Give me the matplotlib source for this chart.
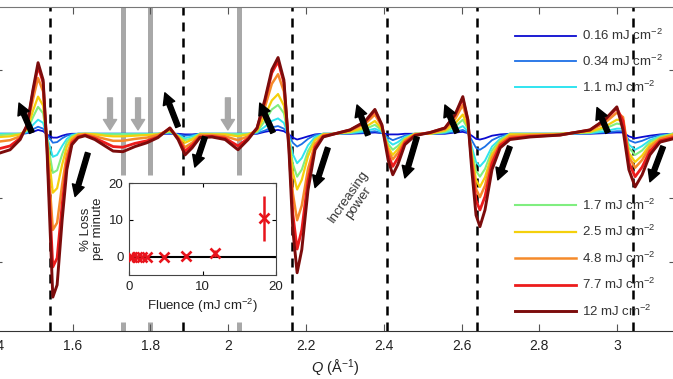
import matplotlib
matplotlib.use('Agg')
import matplotlib.pyplot as plt

plt.rcParams['font.family'] = ['Liberation Sans', 'DejaVu Sans']
plt.rcParams['mathtext.fontset'] = 'custom'
plt.rcParams['mathtext.rm'] = 'Liberation Sans'
plt.rcParams['mathtext.it'] = 'Liberation Sans:italic'

# scattering vector Q (1/Angstrom), common grid for all curves
q = [1.413, 1.439, 1.465, 1.483, 1.498, 1.511, 1.524, 1.534, 1.542, 1.549,
     1.560, 1.573, 1.585, 1.598, 1.614, 1.632, 1.657, 1.683, 1.704, 1.729,
     1.760, 1.791, 1.819, 1.850, 1.871, 1.889, 1.907, 1.927, 1.958, 1.992,
     2.025, 2.051, 2.074, 2.094, 2.112, 2.128, 2.143, 2.156, 2.166, 2.177,
     2.189, 2.205, 2.223, 2.244, 2.274, 2.313, 2.351, 2.377, 2.395, 2.411,
     2.423, 2.436, 2.454, 2.480, 2.519, 2.557, 2.583, 2.603, 2.616, 2.626,
     2.637, 2.647, 2.660, 2.678, 2.699, 2.724, 2.776, 2.853, 2.930, 2.968,
     2.999, 3.015, 3.030, 3.046, 3.064, 3.084, 3.110, 3.143]

# difference signal for each fluence
d016 = [0, 0, 0, .01, .03, .06, .04, -.01, -.04, -.06,
        -.06, -.03, -.01, 0, 0, 0, 0, 0, 0, 0,
        0, 0, 0, 0, 0, -.01, -.01, 0, 0, 0,
        0, 0, 0, .03, .05, .06, .04, -.01, -.06, -.09,
        -.07, -.04, -.01, 0, 0, 0, .01, .02, .01, -.01,
        -.01, -.01, 0, 0, 0, 0, .02, .03, .01, -.03,
        -.08, -.09, -.07, -.03, -.01, 0, 0, 0, 0, .01,
        .02, .02, -.04, -.07, -.05, -.03, -.01, 0]
d034 = [0, 0, 0, .01, .07, .11, .08, -.02, -.08, -.14,
        -.13, -.07, -.03, -.01, 0, 0, 0, 0, 0, 0,
        0, 0, 0, .01, -.01, -.03, -.02, 0, 0, 0,
        0, 0, .01, .05, .10, .12, .08, -.02, -.14, -.20,
        -.16, -.08, -.02, 0, 0, .01, .02, .04, .01, -.06,
        -.10, -.07, -.03, 0, 0, .01, .03, .06, .02, -.10,
        -.22, -.25, -.20, -.10, -.04, 0, 0, 0, .01, .02,
        .04, .04, -.10, -.14, -.11, -.06, -.02, 0]
d11 = [0, 0, 0, .03, .14, .22, .17, -.05, -.21, -.36,
       -.33, -.19, -.08, -.02, 0, 0, 0, 0, 0, 0,
       0, 0, 0, .02, -.02, -.07, -.04, 0, 0, 0,
       0, 0, .02, .11, .20, .24, .17, -.05, -.32, -.46,
       -.38, -.18, -.05, 0, 0, .01, .04, .08, .03, -.11,
       -.17, -.13, -.05, 0, 0, .02, .06, .12, .04, -.20,
       -.44, -.51, -.42, -.20, -.08, 0, 0, 0, .01, .04,
       .08, .08, -.17, -.25, -.19, -.10, -.04, 0]
d17 = [-.02, -.01, 0, .05, .26, .42, .32, -.08, -.36, -.61,
       -.57, -.32, -.13, -.04, 0, 0, 0, -.01, -.01, -.01,
       -.01, -.01, 0, .03, -.03, -.10, -.07, 0, 0, 0,
       -.01, 0, .03, .20, .38, .45, .32, -.08, -.47, -.67,
       -.56, -.27, -.08, 0, 0, .02, .07, .14, .05, -.16,
       -.25, -.19, -.07, 0, 0, .03, .11, .22, .08, -.26,
       -.58, -.67, -.55, -.26, -.10, 0, 0, 0, .02, .08,
       .16, .14, -.22, -.33, -.26, -.13, -.05, 0]
d25 = [-.05, -.04, -.01, .07, .36, .58, .44, -.11, -.54, -.92,
       -.85, -.48, -.20, -.06, -.01, 0, -.01, -.03, -.04, -.04,
       -.03, -.02, -.01, .05, -.04, -.14, -.09, -.01, -.01, -.01,
       -.04, -.01, .05, .28, .52, .62, .44, -.10, -.60, -.87,
       -.72, -.35, -.10, -.01, 0, .03, .10, .20, .07, -.21,
       -.33, -.24, -.09, 0, 0, .05, .16, .30, .11, -.32,
       -.72, -.83, -.68, -.32, -.13, -.01, -.01, 0, .03, .11,
       .22, .20, -.30, -.44, -.34, -.17, -.07, -.01]
d48 = [-.12, -.10, -.04, .11, .54, .87, .66, -.16, -.88, -1.50,
       -1.39, -.79, -.33, -.10, -.02, -.01, -.04, -.08, -.11, -.11,
       -.08, -.06, -.02, .07, -.06, -.21, -.14, -.02, -.02, -.04,
       -.10, -.04, .07, .41, .78, .93, .66, -.16, -.93, -1.35,
       -1.12, -.55, -.16, -.02, 0, .05, .15, .30, .11, -.26,
       -.40, -.30, -.11, -.01, .01, .07, .23, .45, .17, -.38,
       -.86, -.99, -.81, -.38, -.15, -.04, -.02, -.01, .05, .17,
       .33, .26, -.36, -.53, -.41, -.21, -.08, -.03]
d77 = [-.23, -.19, -.07, .13, .66, 1.05, .80, -.21, -1.23, -2.08,
       -1.94, -1.10, -.46, -.14, -.05, -.02, -.07, -.14, -.20, -.21,
       -.15, -.11, -.05, .09, -.07, -.27, -.18, -.05, -.04, -.07,
       -.19, -.07, .09, .50, .95, 1.13, .80, -.21, -1.25, -1.80,
       -1.50, -.73, -.21, -.04, 0, .06, .18, .36, .13, -.33,
       -.51, -.38, -.14, -.02, .02, .09, .29, .55, .21, -.46,
       -1.04, -1.19, -.98, -.46, -.18, -.07, -.04, -.02, .06, .21,
       .40, .20, -.45, -.67, -.52, -.27, -.11, -.06]
d12 = [-.30, -.25, -.09, .14, .69, 1.11, .84, -.25, -1.50, -2.55,
       -2.36, -1.34, -.56, -.17, -.06, -.03, -.09, -.19, -.27, -.28,
       -.20, -.14, -.06, .09, -.09, -.33, -.22, -.06, -.05, -.09,
       -.25, -.09, .09, .53, 1.00, 1.19, .84, -.25, -1.50, -2.17,
       -1.81, -.88, -.25, -.05, 0, .06, .19, .38, .14, -.41,
       -.64, -.48, -.17, -.03, .02, .09, .30, .58, .22, -.56,
       -1.27, -1.45, -1.19, -.56, -.22, -.09, -.05, -.02, .06, .22,
       .42, .06, -.56, -.83, -.64, -.33, -.13, -.08]

curves = [d016, d034, d11, d17, d25, d48, d77, d12]
labels = ['0.16', '0.34', '1.1', '1.7', '2.5', '4.8', '7.7', '12']
colors = ['#0b0bd0', '#1c70e6', '#30e4f0', '#80ee80', '#f4d00c',
          '#f58a2a', '#ec1c1c', '#7c0c0c']
widths = [1.3, 1.3, 1.4, 1.5, 1.6, 1.8, 2.0, 2.1]

peak_pos = [1.542, 1.884, 2.164, 2.408, 2.639, 3.040]   # dashed lines
gray_pos = [1.729, 1.799, 2.028]                        # gray lines
gray_arrow_q = [1.696, 1.768, 1.999]

# black arrows: (tail Q, tail y, head Q, head y)
arrows = [(1.495, 0.02, 1.462, 0.48), (1.639, -0.30, 1.606, -0.98),
          (1.871, 0.11, 1.837, 0.64), (1.940, -0.05, 1.914, -0.52),
          (2.115, 0.02, 2.081, 0.48), (2.256, -0.22, 2.223, -0.84),
          (2.359, -0.02, 2.331, 0.45), (2.485, -0.05, 2.454, -0.69),
          (2.588, 0.02, 2.557, 0.45), (2.724, -0.20, 2.693, -0.72),
          (2.976, 0.02, 2.948, 0.41), (3.118, -0.20, 3.084, -0.75)]

xticks = [1.4, 1.6, 1.8, 2.0, 2.2, 2.4, 2.6, 2.8, 3.0]
xticklabels = ['1.4', '1.6', '1.8', '2', '2.2', '2.4', '2.6', '2.8', '3']

# inset: loss rate vs fluence
fluence = [0.16, 0.34, 1.1, 1.7, 2.5, 4.8, 7.7, 11.7, 18.3]
loss = [0, 0, 0, 0, 0, 0, 0.1, 0.9, 10.4]
loss_err = [0.3, 0.3, 0.3, 0.3, 0.3, 0.4, 0.5, 0.9, 6.1]

fig = plt.figure(figsize=(6.73, 3.79), dpi=100)
ax = fig.add_axes([-0.0076, 0.1266, 1.012, 0.855])
ax.set_xlim(1.4, 3.151)
ax.set_ylim(-3.08, 1.98)

y_cut_top, y_cut_bot = -0.64, -2.94
for x in peak_pos:
    if 1.7 < x < 2.05:
        ax.vlines(x, y_cut_top, 1.98, color='k', lw=1.8, linestyles=(0, (3.6, 2.8)), zorder=1)
        ax.vlines(x, -3.08, y_cut_bot, color='k', lw=1.8, zorder=1)
    else:
        ax.axvline(x, color='k', lw=1.8, dashes=(3.6, 2.8), zorder=1)
for x in gray_pos:
    ax.vlines(x, y_cut_top, 1.98, color='#a8a8a8', lw=3.6, zorder=1)
    ax.vlines(x, -3.08, y_cut_bot, color='#a8a8a8', lw=3.6, zorder=1)

handles = []
for y, lab, c, w in zip(curves, labels, colors, widths):
    h, = ax.plot(q, y, color=c, lw=w, solid_joinstyle='round',
                 label=lab + r' mJ cm$^{-2}$', zorder=2)
    handles.append(h)

for tq, ty, hq, hy in arrows:
    ax.annotate('', xy=(hq, hy), xytext=(tq, ty),
                arrowprops=dict(arrowstyle='simple,head_length=0.75,head_width=0.8,tail_width=0.32',
                                fc='k', ec='k', shrinkA=0, shrinkB=0, mutation_scale=11),
                zorder=4)
for gq in gray_arrow_q:
    ax.annotate('', xy=(gq, 0.06), xytext=(gq, 0.56),
                arrowprops=dict(arrowstyle='simple,head_length=0.75,head_width=0.95,tail_width=0.35',
                                fc='#a8a8a8', ec='#a8a8a8', shrinkA=0, shrinkB=0, mutation_scale=10),
                zorder=4)

ax.text(2.322, -1.03, 'Increasing\npower', rotation=55, ha='center', va='center',
        fontsize=9.5, color='#333333', linespacing=1.0, rotation_mode='anchor')

ax.set_xticks(xticks)
ax.set_xticklabels(xticklabels)
ax.set_yticks([-2, -1, 0, 1])
ax.set_yticklabels([])
ax.tick_params(direction='in', top=True, right=True, length=5, width=0.8,
               color='#555555', labelsize=10, labelcolor='#222222', pad=6)
ax.spines['top'].set_color('#777777')
ax.spines['bottom'].set_color('#333333')
ax.set_xlabel(r'$Q$ (Å$^{-1}$)', fontsize=10.5, color='#222222', labelpad=3)

leg1 = ax.legend(handles=handles[:3], loc='upper left', bbox_to_anchor=(0.765, 0.926),
                 bbox_transform=fig.transFigure, frameon=False, fontsize=9.5,
                 handlelength=4.6, handletextpad=0.5, labelspacing=0.8,
                 borderpad=0, borderaxespad=0, labelcolor='#333333')
ax.add_artist(leg1)
ax.legend(handles=handles[3:], loc='upper left', bbox_to_anchor=(0.765, 0.478),
          bbox_transform=fig.transFigure, frameon=False, fontsize=9.5,
          handlelength=4.6, handletextpad=0.5, labelspacing=0.85,
          borderpad=0, borderaxespad=0, labelcolor='#333333')

axin = fig.add_axes([0.1917, 0.2744, 0.2184, 0.2427])
axin.axhline(0, color='k', lw=1.5, zorder=1)
axin.errorbar(fluence, loss, yerr=loss_err, fmt='x', color='#e8141c', ms=6.5,
              mew=1.9, elinewidth=1.8, capsize=0, zorder=3)
axin.set_xlim(0, 20)
axin.set_ylim(-5, 20)
axin.set_xticks([0, 10, 20])
axin.set_yticks([0, 10, 20])
axin.tick_params(direction='in', top=True, right=True, length=3, width=0.8,
                 labelsize=9.5, labelcolor='#222222', pad=4)
for s in axin.spines.values():
    s.set_color('#444444')
    s.set_linewidth(0.8)
axin.set_xlabel(r'Fluence (mJ cm$^{-2}$)', fontsize=9.5, color='#222222', labelpad=3)
axin.set_ylabel('% Loss\nper minute', fontsize=9.5, color='#222222', labelpad=3,
                linespacing=1.1)

fig.savefig('out.png', dpi=100)
